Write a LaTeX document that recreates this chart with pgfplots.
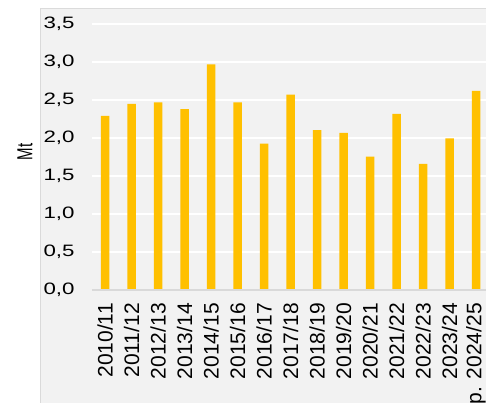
\documentclass[border=0pt]{standalone}
\usepackage{pgfplots}
\pgfplotsset{compat=1.18}
\usepackage{fontspec}
\setmainfont{Liberation Sans}
\definecolor{panel}{HTML}{F2F2F2}
\definecolor{bargold}{HTML}{FFC000}
\definecolor{zeroline}{HTML}{D9D9D9}
\definecolor{shadow}{HTML}{DADADA}
\begin{document}
\begin{tikzpicture}
\path[use as bounding box] (0,0) rectangle (486pt,403pt);
\clip (0,0) rectangle (486pt,403pt);
\fill[panel] (40pt,0) rectangle (490pt,395pt);
\draw[shadow, line width=1.2pt] (40.6pt,0) -- (40.6pt,395pt);
\draw[panel!80!gray, line width=0.6pt] (40.6pt,395pt) -- (490pt,395pt);
\begin{axis}[
  at={(91.75pt,113pt)}, anchor=south west,
  scale only axis, width=397.5pt, height=266pt,
  xmin=-0.5, xmax=14.5, ymin=0, ymax=3.5,
  axis line style={draw=none},
  major tick length=0pt,
  ytick={0,0.5,...,3.5},
  ymajorgrids, grid style={white, line width=2pt},
  xtick={0,...,14},
  xticklabels={2010/11,2011/12,2012/13,2013/14,2014/15,2015/16,2016/17,2017/18,2018/19,2019/20,2020/21,2021/22,2022/23,2023/24,p. 2024/25},
  xticklabel style={yshift=-13pt, rotate=90, anchor=east, inner sep=0pt, font=\fontsize{21}{21}\selectfont},
  yticklabel={\scalebox{1.35}[1]{\pgfmathprintnumber[fixed, fixed zerofill, precision=1, use comma]{\tick}}},
  yticklabel style={anchor=east, inner sep=0pt, xshift=-17pt, font=\fontsize{16.5}{16.5}\selectfont},
  /pgf/number format/assume math mode=true,
  clip=false,
]
\addplot[ybar, bar width=8.5pt, fill=bargold, draw=none] coordinates {
(0,2.29) (1,2.45) (2,2.47) (3,2.38) (4,2.97) (5,2.47) (6,1.925) (7,2.57)
(8,2.105) (9,2.066) (10,1.754) (11,2.316) (12,1.658) (13,1.996) (14,2.62)
};
\draw[zeroline, line width=1.5pt] (axis cs:-0.5,0) -- (axis cs:14.6,0);
\end{axis}
\node[rotate=90, inner sep=0pt] at (25pt,251pt) {\scalebox{1}[1.45]{\fontsize{15}{15}\selectfont Mt}};
\end{tikzpicture}
\end{document}
